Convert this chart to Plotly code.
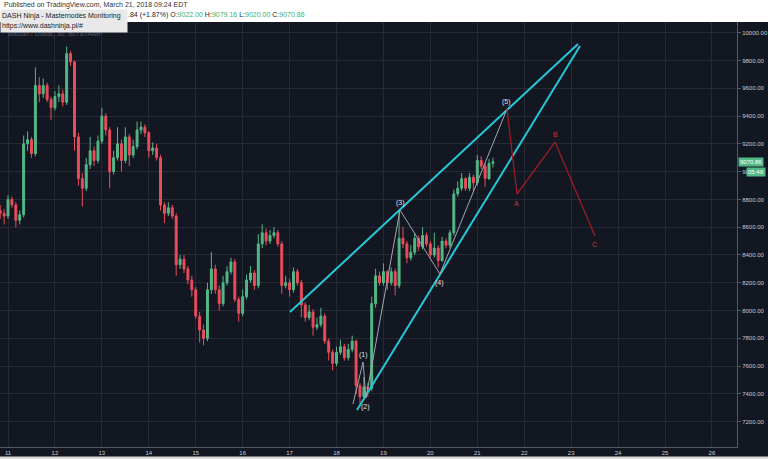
import plotly.graph_objects as go
import pandas as pd

# ---------------- data (BTC/USD, 2h bars) ----------------
first_open = 8720
closes = [8700, 8680, 8800, 8760, 8650, 8690, 9200, 9230, 9130, 9620,
          9560, 9620, 9520, 9460, 9540, 9560, 9500, 9850, 9790, 9250,
          8950, 8880, 9050, 9150, 9080, 9220, 9400, 9300, 9000, 9100,
          9200, 9080, 9250, 9120, 9180, 9300, 9320, 9280, 9150, 9170,
          9100, 8760, 8700, 8740, 8680, 8330, 8370, 8300, 8220, 8150,
          7960, 7860, 7800, 8150, 8300, 8150, 8050, 8200, 8280, 8350,
          8080, 7980, 8100, 8220, 8270, 8180, 8480, 8560, 8500, 8540,
          8560, 8480, 8180, 8200, 8150, 8280, 8200, 8040, 7950, 7990,
          7880, 7900, 7960, 7780, 7700, 7620, 7700, 7740, 7660, 7720,
          7780, 7460, 7380, 7450, 7440, 8050, 8250, 8200, 8280, 8200,
          8280, 8180, 8520, 8480, 8380, 8420, 8520, 8460, 8540, 8480,
          8400, 8450, 8360, 8500, 8470, 8560, 8840, 8880, 8950, 8880,
          8960, 8920, 9080, 9040, 8950, 9060, 9070.86]
highs = [8760, 8730, 8830, 8820, 8780, 8720, 9260, 9290, 9250, 9750,
         9680, 9670, 9640, 9540, 9580, 9620, 9590, 9900, 9870, 9800,
         9280, 8990, 9100, 9250, 9180, 9260, 9460, 9420, 9320, 9150,
         9320, 9230, 9320, 9270, 9230, 9360, 9360, 9340, 9290, 9210,
         9200, 9120, 8780, 8780, 8760, 8700, 8400, 8400, 8320, 8250,
         8170, 7990, 7900, 8200, 8420, 8330, 8180, 8250, 8320, 8380,
         8370, 8100, 8150, 8260, 8320, 8290, 8550, 8620, 8590, 8580,
         8600, 8580, 8500, 8250, 8230, 8310, 8300, 8220, 8060, 8040,
         8010, 7950, 8020, 7980, 7800, 7720, 7740, 7790, 7760, 7760,
         7820, 7790, 7480, 7520, 7480, 8100, 8300, 8280, 8340, 8290,
         8310, 8300, 8720, 8600, 8500, 8470, 8560, 8540, 8600, 8560,
         8500, 8560, 8470, 8530, 8520, 8580, 8870, 8930, 8990, 8960,
         8990, 8980, 9120, 9110, 9060, 9090, 9100]
lows = [8660, 8620, 8660, 8740, 8600, 8620, 8670, 9150, 9100, 9110,
        9500, 9530, 9500, 9370, 9440, 9500, 9470, 9480, 9760, 9150,
        8900, 8750, 8860, 9020, 9040, 9060, 9200, 9260, 8880, 8980,
        9080, 9000, 9060, 9040, 9100, 9160, 9270, 9250, 9100, 9120,
        9080, 8720, 8630, 8680, 8660, 8250, 8300, 8270, 8190, 8100,
        7940, 7770, 7750, 7780, 8120, 8120, 8000, 8030, 8180, 8260,
        8060, 7920, 7960, 8080, 8200, 8150, 8160, 8450, 8470, 8480,
        8520, 8460, 8120, 8160, 8100, 8130, 8180, 7950, 7920, 7930,
        7820, 7860, 7880, 7760, 7640, 7570, 7600, 7680, 7640, 7640,
        7700, 7400, 7330, 7360, 7380, 7420, 8020, 8180, 8180, 8150,
        8180, 8110, 8160, 8450, 8340, 8360, 8400, 8430, 8440, 8460,
        8380, 8380, 8310, 8350, 8450, 8450, 8540, 8820, 8860, 8860,
        8860, 8850, 8900, 9020, 8890, 8940, 9030]
opens = [first_open] + closes[:-1]
times = pd.date_range("2018-03-10 20:00", periods=len(closes), freq="2h")

# channel lines (cyan)
upper_x = ["2018-03-17 00:13", "2018-03-23 03:30"]
upper_y = [7990, 9919]
lower_x = ["2018-03-18 10:29", "2018-03-23 04:31"]
lower_y = [7284, 9904]

# Elliott wave count (grey) and ABC correction (red)
wave_x = ["2018-03-18 08:25", "2018-03-18 13:34", "2018-03-18 15:04",
          "2018-03-19 08:28", "2018-03-20 04:55", "2018-03-21 15:11"]
wave_y = [7327, 7630, 7371, 8724, 8263, 9451]
wave_labels = ["", "(1)", "(2)", "(3)", "(4)", "(5)"]
wave_label_shift = [0, 7, -9, 7, -9, 7]
abc_x = ["2018-03-21 15:11", "2018-03-21 20:18", "2018-03-22 15:45", "2018-03-23 12:11"]
abc_y = [9451, 8839, 9213, 8537]
abc_labels = ["", "A", "B", "C"]
abc_label_shift = [0, -9, 8, -9]

y_ticks = [7200, 7400, 7600, 7800, 8000, 8200, 8400, 8600, 8800,
           9000, 9200, 9400, 9600, 9800, 10000]

# ---------------- figure ----------------
BG = "#131722"
GRID = "#262a35"
UP = "#53b987"
DOWN = "#eb4d5c"
W, H = 768, 459
ML, MR, MT, MB = 0, 31, 22, 12
PW, PH = W - ML - MR, H - MT - MB


def px(x):
    return (x - ML) / PW


def py(y):
    return (H - MB - y) / PH


fig = go.Figure()
fig.add_trace(go.Candlestick(
    x=times, open=opens, high=highs, low=lows, close=closes,
    increasing=dict(line=dict(color=UP, width=1), fillcolor=UP),
    decreasing=dict(line=dict(color=DOWN, width=1), fillcolor=DOWN),
    whiskerwidth=0, showlegend=False, hoverinfo="skip"))

for xs, ys in ((upper_x, upper_y), (lower_x, lower_y)):
    fig.add_trace(go.Scatter(x=xs, y=ys, mode="lines",
                             line=dict(color="#25c8d8", width=2),
                             showlegend=False, hoverinfo="skip"))

fig.add_trace(go.Scatter(x=wave_x, y=wave_y, mode="lines",
                         line=dict(color="#a3a6ad", width=1),
                         showlegend=False, hoverinfo="skip"))
fig.add_trace(go.Scatter(x=abc_x, y=abc_y, mode="lines",
                         line=dict(color="#9b1c24", width=1.3),
                         showlegend=False, hoverinfo="skip"))

annotations = []
for xv, yv, t, s in zip(wave_x, wave_y, wave_labels, wave_label_shift):
    if t:
        annotations.append(dict(x=xv, y=yv, xref="x", yref="y", text=t,
                                showarrow=False, yshift=s,
                                font=dict(size=7, color="#e0e0e0",
                                          family="Liberation Sans")))
for xv, yv, t, s in zip(abc_x, abc_y, abc_labels, abc_label_shift):
    if t:
        annotations.append(dict(x=xv, y=yv, xref="x", yref="y", text=t,
                                showarrow=False, yshift=s,
                                font=dict(size=7, color="#c9353f",
                                          family="Liberation Sans")))

# header texts
annotations += [
    dict(x=px(2), y=py(5), xref="paper", yref="paper", xanchor="left",
         yanchor="middle", showarrow=False,
         text="Published on TradingView.com, March 21, 2018 09:24 EDT",
         font=dict(size=7, color="#333333", family="Liberation Sans")),
    dict(x=px(6), y=py(33), xref="paper", yref="paper", xanchor="left",
         yanchor="middle", showarrow=False,
         text="Bitcoin / Dollar, 30, BITSTAMP",
         font=dict(size=7, color="#555a66", family="Liberation Sans")),
    dict(x=px(126), y=py(15.5), xref="paper", yref="paper", xanchor="left",
         yanchor="middle", showarrow=False,
         text=(".84 (+1.87%) O:<span style='color:#3fae6b'>9022.00</span> "
               "H:<span style='color:#3fae6b'>9079.16</span> "
               "L:<span style='color:#3fae6b'>9020.00</span> "
               "C:<span style='color:#3fae6b'>9070.86</span>"),
         font=dict(size=7, color="#222222", family="Liberation Sans")),
    dict(x=px(0), y=py(21), xref="paper", yref="paper", xanchor="left",
         yanchor="middle", showarrow=False, width=124, height=20,
         align="left", valign="middle", bgcolor="#e9e9e9", borderpad=1,
         text="DASH Ninja - Masternodes Monitoring<br>https://www.dashninja.pl/#",
         font=dict(size=7, color="#222222", family="Liberation Sans")),
    dict(x=px(738), y=py(162), xref="paper", yref="paper", xanchor="left",
         yanchor="middle", showarrow=False, bgcolor=UP, borderpad=1,
         text="9070.86", font=dict(size=6, color="#ffffff",
                                   family="Liberation Sans")),
    dict(x=px(746), y=py(171.5), xref="paper", yref="paper", xanchor="left",
         yanchor="middle", showarrow=False, bgcolor=UP, borderpad=1,
         text="05:49", font=dict(size=6, color="#ffffff",
                                 family="Liberation Sans")),
]

shapes = [
    dict(type="rect", xref="paper", yref="paper", x0=px(0), x1=px(W),
         y0=py(MT), y1=py(0), fillcolor="#ffffff", line=dict(width=0),
         layer="above"),
    dict(type="rect", xref="paper", yref="paper", x0=px(0), x1=px(W),
         y0=py(459), y1=py(456.5), fillcolor="#d9d9d9", line=dict(width=0),
         layer="above"),
]

fig.update_layout(
    width=W, height=H,
    margin=dict(l=ML, r=MR, t=MT, b=MB),
    paper_bgcolor=BG, plot_bgcolor=BG,
    annotations=annotations, shapes=shapes,
    showlegend=False,
    xaxis=dict(type="date",
               range=["2018-03-10 19:54", "2018-03-26 12:49"],
               tick0="2018-03-11", dtick=86400000, tickformat="%-d",
               showgrid=True, gridcolor=GRID, gridwidth=1,
               showline=True, linecolor="#555863", linewidth=1,
               ticks="", zeroline=False, rangeslider=dict(visible=False),
               tickfont=dict(size=6, color="#c8cad0",
                             family="Liberation Sans")),
    yaxis=dict(side="right", range=[7018, 10077], tickvals=y_ticks,
               tickformat=".2f", showgrid=True, gridcolor=GRID,
               showline=True, linecolor="#555863", linewidth=1,
               ticks="outside", ticklen=3, tickcolor="#555863",
               zeroline=False,
               tickfont=dict(size=6, color="#c8cad0",
                             family="Liberation Sans")),
)

fig.write_html("out.html")
